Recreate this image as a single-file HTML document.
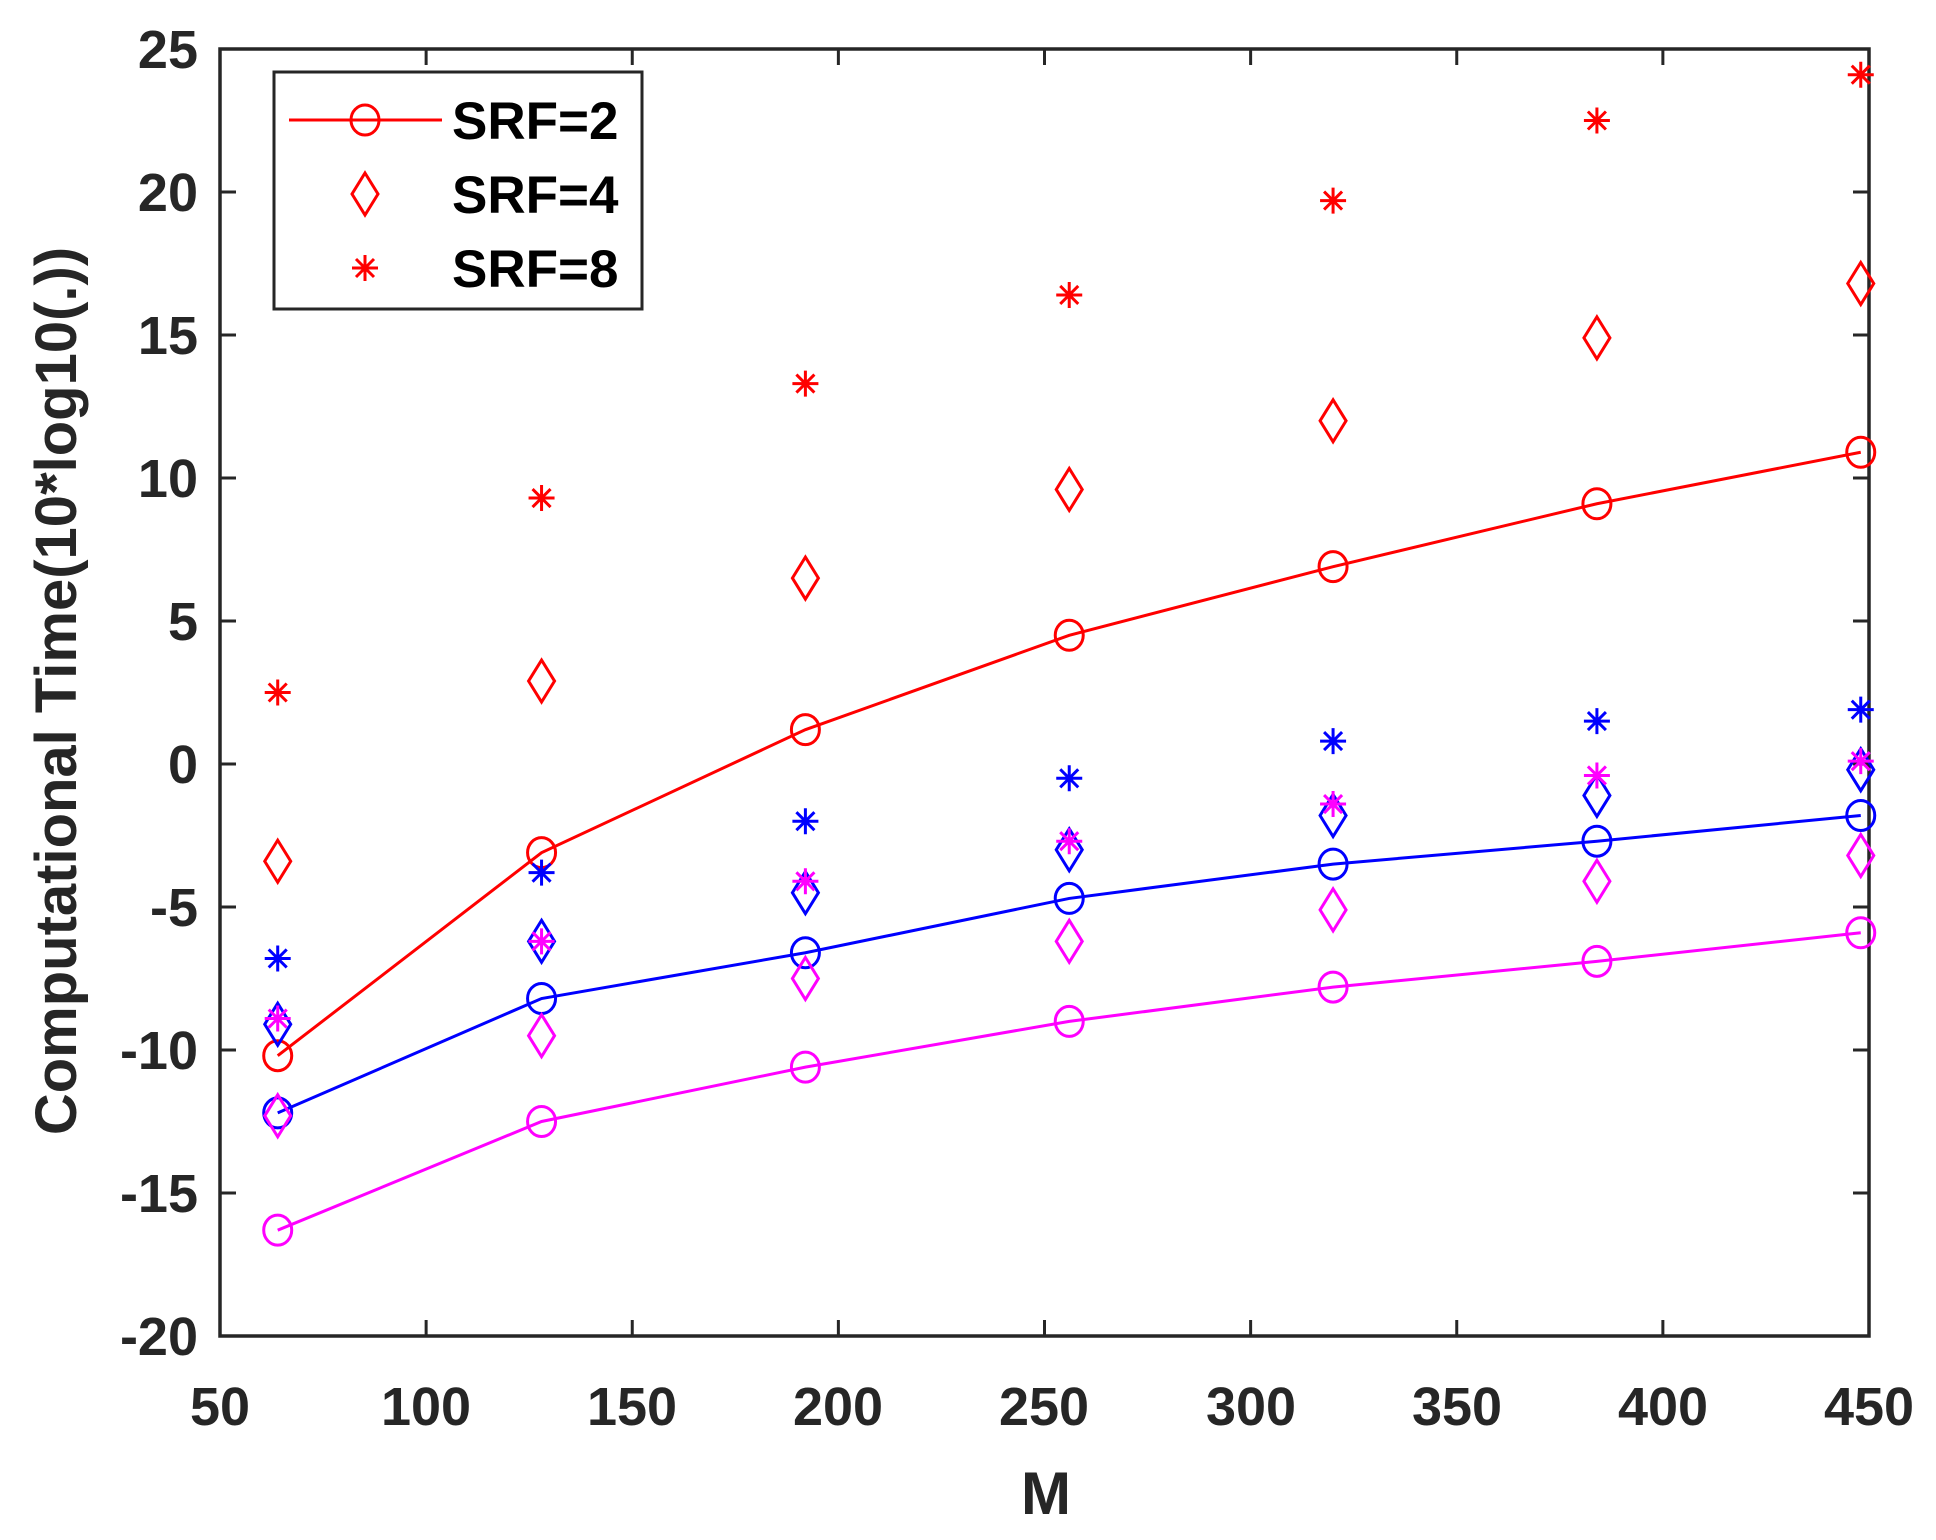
<!DOCTYPE html>
<html><head><meta charset="utf-8"><style>
body{margin:0;background:#fff}
text{font-family:"Liberation Sans",Arial,sans-serif;font-weight:bold;fill:#262626}
</style></head><body>
<svg id="s" width="1936" height="1535" xmlns="http://www.w3.org/2000/svg">
<rect width="1936" height="1535" fill="#fff"/>
<g font-size="54">
<text x="220" y="1425" text-anchor="middle">50</text>
<text x="426" y="1425" text-anchor="middle">100</text>
<text x="632" y="1425" text-anchor="middle">150</text>
<text x="838" y="1425" text-anchor="middle">200</text>
<text x="1044" y="1425" text-anchor="middle">250</text>
<text x="1251" y="1425" text-anchor="middle">300</text>
<text x="1457" y="1425" text-anchor="middle">350</text>
<text x="1663" y="1425" text-anchor="middle">400</text>
<text x="1869" y="1425" text-anchor="middle">450</text>
<g text-anchor="end">
<text x="198" y="68">25</text>
<text x="198" y="211">20</text>
<text x="198" y="354">15</text>
<text x="198" y="497">10</text>
<text x="198" y="640">5</text>
<text x="198" y="783">0</text>
<text x="198" y="926">-5</text>
<text x="198" y="1069">-10</text>
<text x="198" y="1212">-15</text>
<text x="198" y="1355">-20</text>
</g></g>
<text x="1046" y="1514" font-size="60" text-anchor="middle">M</text>
<text transform="translate(76,691) rotate(-90)" font-size="58" text-anchor="middle">Computational Time(10*log10(.))</text>
<g id="ticks" stroke="#262626" stroke-width="3"></g>
<rect x="220" y="49" width="1649" height="1287" fill="none" stroke="#262626" stroke-width="3.5"/>
<g id="data" fill="none" stroke-width="3"></g>
<rect x="274" y="72" width="368" height="237" fill="#fff" stroke="#262626" stroke-width="3"/>
<g font-size="53">
<text x="452" y="139" style="fill:#000">SRF=2</text>
<text x="452" y="213" style="fill:#000">SRF=4</text>
<text x="452" y="287" style="fill:#000">SRF=8</text>
</g>
<g id="leg" fill="none" stroke="red" stroke-width="3"></g>
</svg>
<script>
const X=v=>220+(v-50)*4.1225, Y=v=>49+(25-v)*28.6;
const NS="http://www.w3.org/2000/svg";
function el(p,t,a){const e=document.createElementNS(NS,t);for(const k in a)e.setAttribute(k,a[k]);p.appendChild(e);return e;}
const tk=document.getElementById('ticks');
for(let v=50;v<=450;v+=50){const x=X(v);el(tk,'line',{x1:x,y1:1336,x2:x,y2:1320});el(tk,'line',{x1:x,y1:49,x2:x,y2:65});}
for(let v=-20;v<=25;v+=5){const y=Y(v);el(tk,'line',{x1:220,y1:y,x2:236,y2:y});el(tk,'line',{x1:1869,y1:y,x2:1853,y2:y});}
const d=document.getElementById('data');
const xs=[64,128,192,256,320,384,448];
function circ(g,x,y,c){el(g,'ellipse',{cx:x,cy:y,rx:14,ry:15,stroke:c});}
function dia(g,x,y,c){el(g,'polygon',{points:`${x},${y-21} ${x+13},${y} ${x},${y+21} ${x-13},${y}`,stroke:c});}
function star(g,x,y,c){const r=13;el(g,'path',{d:`M${x-r},${y}H${x+r}M${x},${y-r}V${y+r}M${x-9},${y-9}L${x+9},${y+9}M${x-9},${y+9}L${x+9},${y-9}`,stroke:c});}
const S=[
['red',[-10.2,-3.1,1.2,4.5,6.9,9.1,10.9],[-3.4,2.9,6.5,9.6,12.0,14.9,16.8],[2.5,9.3,13.3,16.4,19.7,22.5,24.1]],
['blue',[-12.2,-8.2,-6.6,-4.7,-3.5,-2.7,-1.8],[-9.1,-6.2,-4.5,-3.0,-1.8,-1.1,-0.2],[-6.8,-3.8,-2.0,-0.5,0.8,1.5,1.9]],
['#ff00ff',[-16.3,-12.5,-10.6,-9.0,-7.8,-6.9,-5.9],[-12.3,-9.5,-7.5,-6.2,-5.1,-4.1,-3.2],[-8.9,-6.2,-4.1,-2.7,-1.4,-0.4,0.1]]];
for(const [c,ci,di,st] of S){
 el(d,'polyline',{points:xs.map((x,i)=>X(x)+','+Y(ci[i])).join(' '),stroke:c});
 xs.forEach((x,i)=>{circ(d,X(x),Y(ci[i]),c);dia(d,X(x),Y(di[i]),c);star(d,X(x),Y(st[i]),c);});
}
const L=document.getElementById('leg');
el(L,'line',{x1:289,y1:120,x2:442,y2:120});circ(L,365,120,'red');dia(L,365,194,'red');star(L,365,268,'red');
</script>
</body></html>
